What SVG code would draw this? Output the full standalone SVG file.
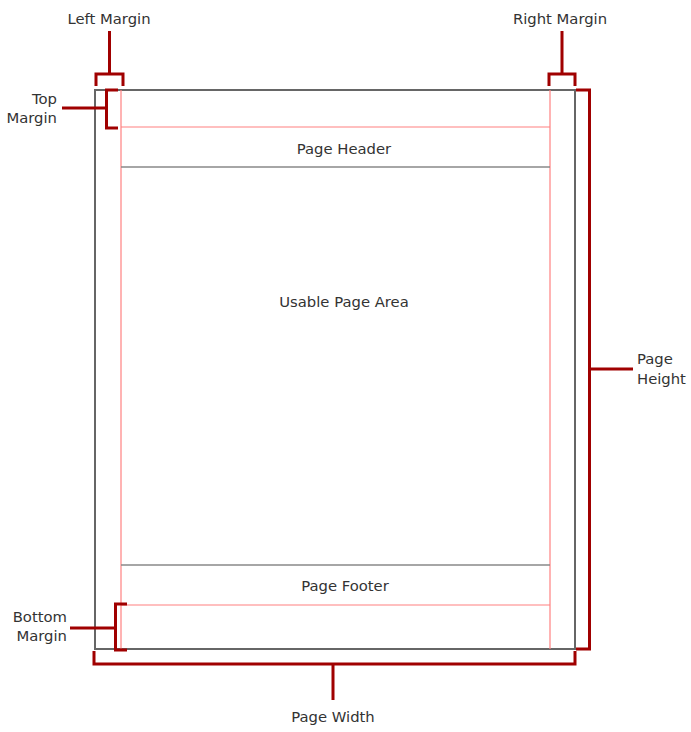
<svg xmlns="http://www.w3.org/2000/svg" width="691" height="732" viewBox="0 0 691 732">
<style>
text{font-family:"DejaVu Sans",Verdana,sans-serif;font-size:14.8px;fill:#333}
.pg{fill:none;stroke:#666;stroke-width:2}
.pk{stroke:#ff8080;stroke-width:1.2;fill:none}
.gl{stroke:#888;stroke-width:1.5}
.br{fill:none;stroke:#a00000;stroke-width:3}
</style>
<rect width="691" height="732" fill="#fff"/>
<g id="page">
<rect class="pg" x="95" y="90" width="480" height="559"/>
<line class="pk" x1="121" y1="90" x2="121" y2="649"/>
<line class="pk" x1="550" y1="90" x2="550" y2="649"/>
<line class="pk" x1="121" y1="127" x2="550" y2="127"/>
<line class="pk" x1="121" y1="605" x2="550" y2="605"/>
</g>
<g id="header">
<line class="gl" x1="121" y1="167" x2="550" y2="167"/>
<text x="344" y="154" text-anchor="middle">Page Header</text>
</g>
<g id="body"><text x="344" y="307" text-anchor="middle">Usable Page Area</text></g>
<g id="footer">
<line class="gl" x1="121" y1="565" x2="550" y2="565"/>
<text x="345" y="591" text-anchor="middle">Page Footer</text>
</g>
<g id="connectors">
<path class="br" d="M96 86V74H123V86M109.5 74V31"/>
<path class="br" d="M549 86V74H575V86M562 74V31"/>
<path class="br" d="M118 90H106.5V128H118M106.5 108H62"/>
<path class="br" d="M127 604H115.5V650H127M115.5 628H70"/>
<path class="br" d="M576 90H589.5V649H576M589.5 369H633"/>
<path class="br" d="M575 651V664H94V651M333 664V700"/>
</g>
<g id="labels">
<text x="109" y="24" text-anchor="middle">Left Margin</text>
<text x="560" y="24" text-anchor="middle">Right Margin</text>
<text x="57" y="104" text-anchor="end">Top</text>
<text x="57" y="123" text-anchor="end">Margin</text>
<text x="67" y="622" text-anchor="end">Bottom</text>
<text x="67" y="641" text-anchor="end">Margin</text>
<text x="637" y="364">Page</text>
<text x="637" y="384">Height</text>
<text x="333" y="722" text-anchor="middle">Page Width</text>
</g>
</svg>
